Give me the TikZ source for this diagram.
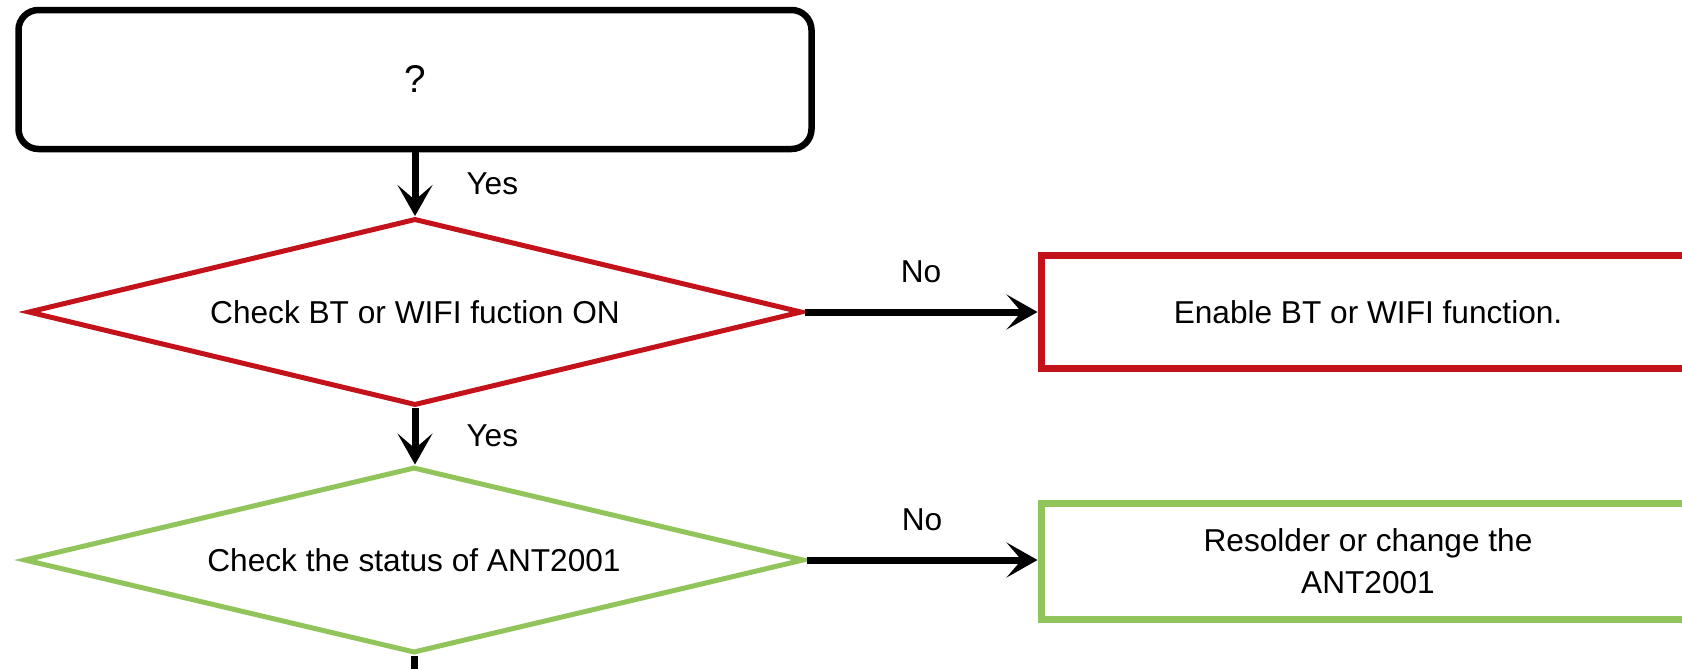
\documentclass[tikz,border=0pt]{standalone}
\usepackage{fontspec}
\setmainfont{Liberation Sans}
\usepackage{tikz}
\usetikzlibrary{shapes.geometric, arrows.meta, positioning}
\definecolor{myred}{RGB}{196,18,26}
\definecolor{mygreen}{RGB}{146,196,92}
\tikzstyle{startbox} = [rectangle, rounded corners=0.4cm, draw=black, line width=0.13cm, minimum width=15.86cm, minimum height=2.78cm, font=\fontsize{22}{26}\selectfont]
\tikzstyle{decision} = [diamond, shape aspect=4, inner sep=0pt, line width=0.1cm, font=\fontsize{18}{22}\selectfont]
\tikzstyle{process} = [rectangle, line width=0.14cm, minimum width=13.08cm, align=center, font=\fontsize{18}{24}\selectfont]
\tikzstyle{arrow} = [line width=0.14cm, -{Stealth[length=0.62cm, width=0.7cm, inset=0.3cm]}]

\begin{document}
\begin{tikzpicture}[lbl/.style={inner sep=0pt, font=\fontsize{18}{22}\selectfont}]
    \useasboundingbox (0,0) rectangle (33.64,-13.36);
    \node[startbox] (q) at (8.30,-1.59) {?};
    \node[decision, draw=myred, minimum width=15.48cm, minimum height=3.74cm] (chkbt) at (8.30,-6.24) {Check BT or WIFI fuction ON};
    \node[decision, draw=mygreen, minimum width=15.60cm, minimum height=3.72cm] (chkant) at (8.28,-11.20) {Check the status of ANT2001};
    \node[process, draw=myred, minimum height=2.27cm] (enbt) at (27.36,-6.24) {Enable BT or WIFI function.};
    \node[process, draw=mygreen, minimum height=2.32cm] (resol) at (27.36,-11.22) {Resolder or change the\\ANT2001};
    \coordinate (down) at (8.28,-13.6);
    \draw[arrow] (q.south -| chkbt.north) -- (chkbt.north) node[midway, right=0.96cm, lbl] {Yes};
    \draw[arrow] (chkbt.south) -- (chkbt.south |- chkant.north) node[midway, right=0.96cm, lbl] {Yes};
    \draw[arrow] (chkbt.east) -- (enbt.west) node[midway, above=0.52cm, lbl] {No};
    \draw[arrow] (chkant.east) -- (chkant.east -| resol.west) node[midway, above=0.52cm, lbl] {No};
    \draw[line width=0.14cm] (chkant.south) -- (down);
\end{tikzpicture}
\end{document}
